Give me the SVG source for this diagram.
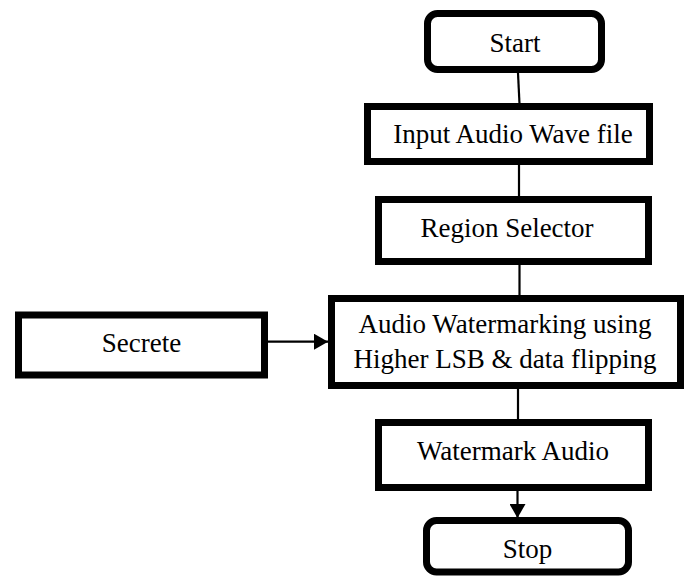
<svg xmlns="http://www.w3.org/2000/svg" width="686" height="576" viewBox="0 0 686 576">
  <style>
    .box { fill: #ffffff; stroke: #000000; stroke-width: 7; }
    .term { fill: #ffffff; stroke: #000000; stroke-width: 7; }
    .label { font-family: 'Liberation Serif', serif; font-size: 27px; fill: #000000; text-anchor: middle; }
    .wire { stroke: #000000; stroke-width: 2.2; fill: none; }
  </style>
  <defs>
    <marker id="arrow" viewBox="0 0 14 16" refX="14" refY="8" markerWidth="14" markerHeight="16" markerUnits="userSpaceOnUse" orient="auto">
      <path d="M0,0 L14,8 L0,16 Z" fill="#000000"/>
    </marker>
  </defs>

  <rect width="686" height="576" fill="#ffffff"/>

  <!-- connectors -->
  <g id="connectors">
    <line class="wire" x1="518" y1="73" x2="519.5" y2="104"/>
    <line class="wire" x1="519" y1="155" x2="519" y2="197"/>
    <line class="wire" x1="519.5" y1="255" x2="519.5" y2="296"/>
    <line class="wire" x1="518" y1="372" x2="518" y2="420"/>
    <line class="wire" x1="517.5" y1="490" x2="517.5" y2="518" marker-end="url(#arrow)"/>
    <line class="wire" x1="268" y1="341.7" x2="328" y2="341.7" marker-end="url(#arrow)"/>
  </g>

  <g id="start">
    <rect class="term" x="427.5" y="13.5" width="174" height="56" rx="10" ry="10"/>
    <text class="label" x="515" y="52">Start</text>
  </g>

  <g id="input">
    <rect class="box" x="367.5" y="106.5" width="282" height="55"/>
    <text class="label" x="513" y="143">Input Audio Wave file</text>
  </g>

  <g id="region">
    <rect class="box" x="378.5" y="199.5" width="270" height="62"/>
    <text class="label" x="507" y="237">Region Selector</text>
  </g>

  <g id="secrete">
    <rect class="box" x="18.5" y="315" width="246" height="60"/>
    <text class="label" x="141.5" y="352">Secrete</text>
  </g>

  <g id="watermarking">
    <rect class="box" x="331.5" y="298.5" width="349" height="87"/>
    <text class="label" x="505" y="333">Audio Watermarking using</text>
    <text class="label" x="505" y="368">Higher LSB &amp; data flipping</text>
  </g>

  <g id="watermark-audio">
    <rect class="box" x="378.5" y="422.5" width="270" height="65"/>
    <text class="label" x="513" y="460">Watermark Audio</text>
  </g>

  <g id="stop">
    <rect class="term" x="426.5" y="520.5" width="202" height="51.5" rx="10" ry="10"/>
    <text class="label" x="527.5" y="558">Stop</text>
  </g>
</svg>
